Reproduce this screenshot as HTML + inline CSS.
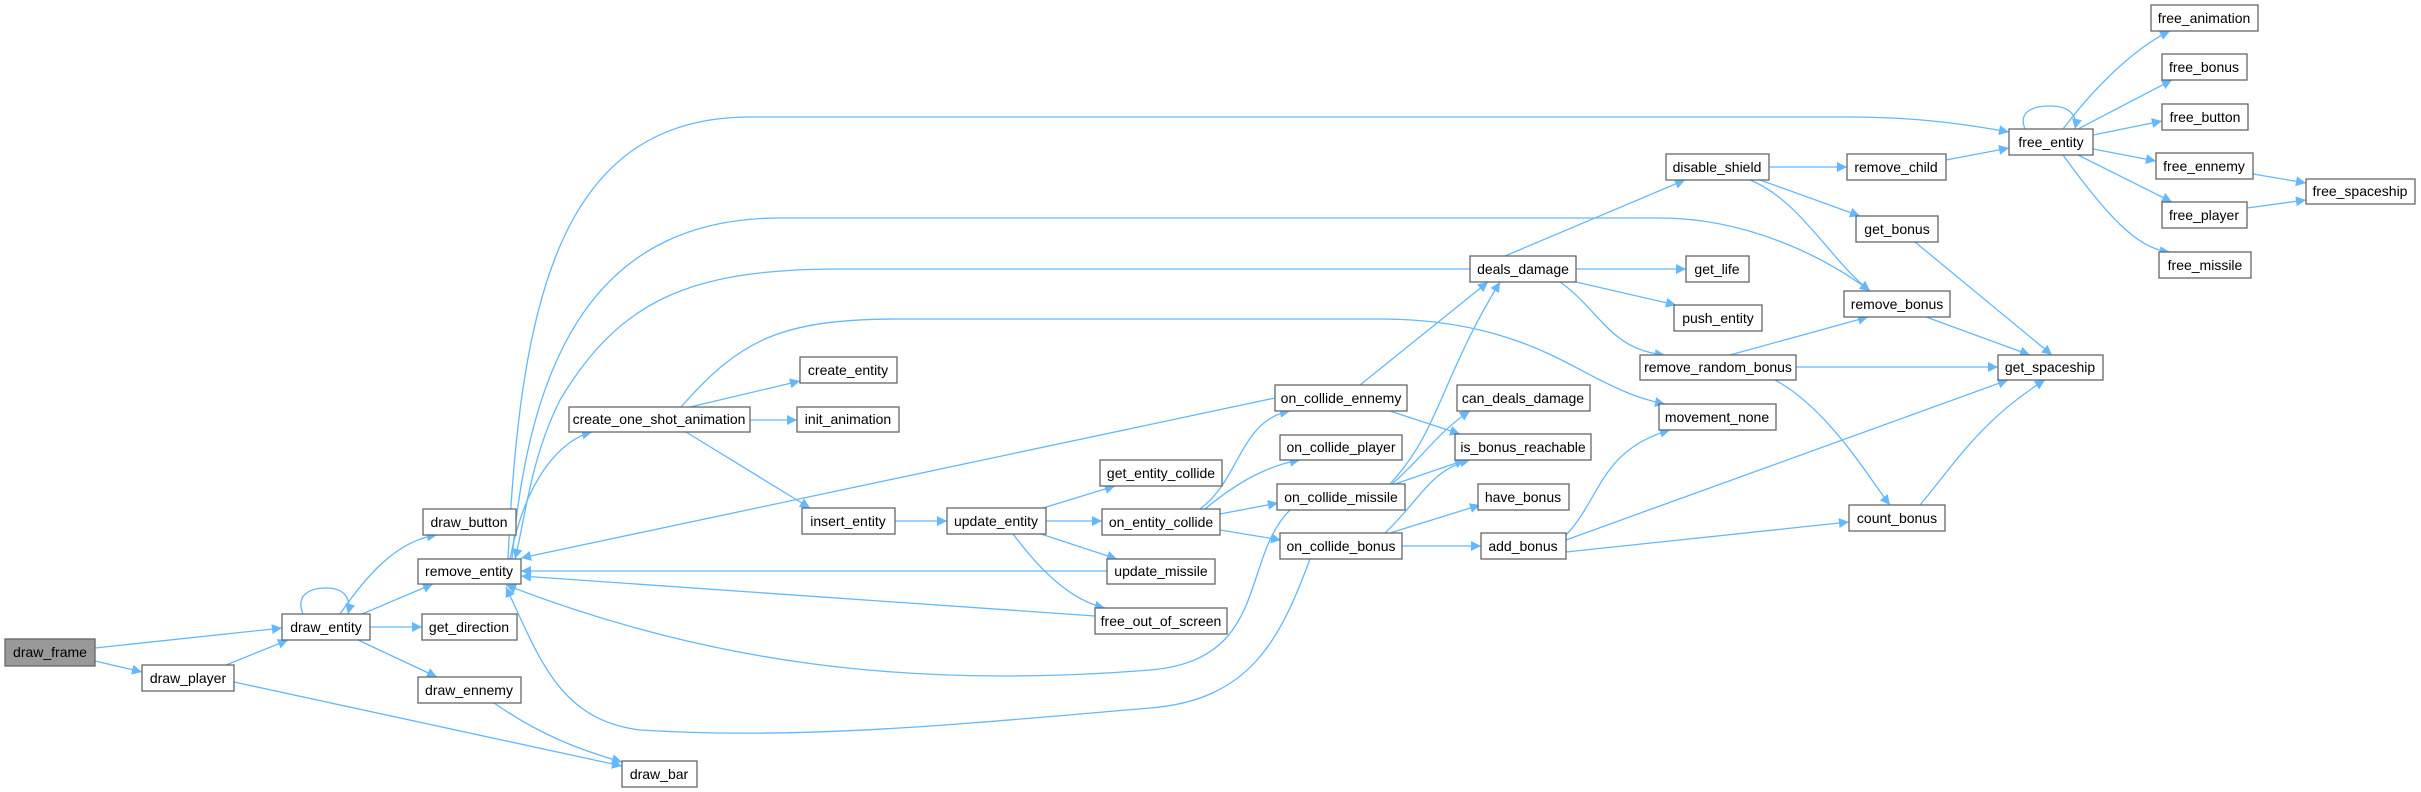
<!DOCTYPE html>
<html><head><meta charset="utf-8"><style>
html,body{margin:0;padding:0;background:#fff;}
svg{display:block;}
text{font-family:"Liberation Sans",Arial,sans-serif;font-size:14px;fill:#000;}
</style></head><body>
<svg width="2421" height="792" viewBox="0 0 2421 792" xmlns="http://www.w3.org/2000/svg">
<defs>
<marker id="a" viewBox="0 0 10 10" refX="10" refY="5" markerWidth="14" markerHeight="10" markerUnits="userSpaceOnUse" orient="auto">
<path d="M0,0 L10,5 L0,10 z" fill="#63b8ff"/>
</marker>
</defs>
<g fill="none" stroke="#63b8ff" stroke-width="1.3" marker-end="url(#a)">
<path d="M95,648 L282,628"/>
<path d="M95,661 L142,672"/>
<path d="M226,665 L288,640"/>
<path d="M234,682 L622,766"/>
<path d="M303,614 C295,595 310,588 326,588 C342,588 352,596 348,614"/>
<path d="M340,614 C370,570 400,540 437,535"/>
<path d="M362,614 L433,584"/>
<path d="M370,627 L422,627"/>
<path d="M358,640 L437,677"/>
<path d="M494,703 C540,735 580,750 622,762"/>
<path d="M510,559 C525,480 560,440 592,432"/>
<path d="M690,407 L800,381"/>
<path d="M750,420 L797,420"/>
<path d="M686,432 L810,508"/>
<path d="M681,407 C740,340 780,319 900,319 L1380,319 C1500,319 1560,360 1600,380 C1630,395 1645,400 1665,404"/>
<path d="M895,521 L947,521"/>
<path d="M1043,508 L1115,486"/>
<path d="M1046,521 L1102,521"/>
<path d="M1041,534 L1117,559"/>
<path d="M1013,534 C1040,570 1070,600 1105,608"/>
<path d="M1107,571 L521,571"/>
<path d="M1095,616 L521,576"/>
<path d="M1275,398 L521,558"/>
<path d="M1200,509 C1240,480 1240,420 1290,411"/>
<path d="M1205,509 C1240,480 1270,465 1300,460"/>
<path d="M1220,514 L1278,503"/>
<path d="M1220,530 L1281,540"/>
<path d="M1360,385 L1488,282"/>
<path d="M1390,411 L1460,434"/>
<path d="M1390,484 C1440,430 1440,380 1500,282"/>
<path d="M1392,484 C1420,460 1440,430 1470,411"/>
<path d="M1395,484 L1465,460"/>
<path d="M1290,510 C1240,560 1270,660 1150,670 C900,690 700,660 506,585"/>
<path d="M1310,559 C1280,640 1250,700 1150,708 C950,725 800,740 640,730 C560,720 540,660 506,587"/>
<path d="M1385,533 C1420,500 1430,470 1470,460"/>
<path d="M1390,533 L1480,505"/>
<path d="M1402,546 L1481,546"/>
<path d="M1566,535 C1600,500 1600,450 1670,430"/>
<path d="M1566,540 L2008,380"/>
<path d="M1566,552 L1849,522"/>
<path d="M1920,505 C1950,470 1980,420 2045,380"/>
<path d="M1505,256 L1685,180"/>
<path d="M1576,269 L1686,269"/>
<path d="M1576,282 L1676,305"/>
<path d="M1560,282 C1600,310 1610,350 1665,355"/>
<path d="M1470,269 L840,269 C690,269 620,300 560,400 C530,460 525,520 515,559"/>
<path d="M512,559 C530,350 600,218 780,218 L1660,218 C1750,218 1830,260 1870,291"/>
<path d="M508,559 C520,300 560,117 750,117 L1850,117 C1920,117 1970,125 2009,132"/>
<path d="M1769,167 L1847,167"/>
<path d="M1760,180 L1860,216"/>
<path d="M1750,180 C1800,200 1830,260 1870,291"/>
<path d="M1946,160 L2009,148"/>
<path d="M1915,242 L2052,355"/>
<path d="M1926,317 L2030,355"/>
<path d="M1730,355 L1868,317"/>
<path d="M1796,367 L1998,367"/>
<path d="M1775,380 C1830,410 1870,480 1890,505"/>
<path d="M2025,129 C2018,112 2032,106 2050,106 C2068,106 2078,114 2075,129"/>
<path d="M2063,129 C2100,80 2140,45 2170,31"/>
<path d="M2078,129 L2172,80"/>
<path d="M2093,135 L2162,121"/>
<path d="M2093,149 L2156,161"/>
<path d="M2078,155 L2172,202"/>
<path d="M2063,155 C2110,220 2140,250 2170,252"/>
<path d="M2253,174 L2306,183"/>
<path d="M2247,208 L2306,200"/>
</g>
<g stroke="#666" stroke-width="1.3" fill="#fff">
<rect x="5" y="639" width="90" height="27" fill="#999"/>
<rect x="142" y="665" width="92" height="26"/>
<rect x="282" y="614" width="88" height="26"/>
<rect x="423" y="509" width="93" height="26"/>
<rect x="418" y="559" width="103" height="25"/>
<rect x="422" y="614" width="95" height="26"/>
<rect x="418" y="677" width="103" height="26"/>
<rect x="622" y="761" width="75" height="26"/>
<rect x="569" y="407" width="181" height="25"/>
<rect x="800" y="357" width="97" height="26"/>
<rect x="797" y="407" width="102" height="25"/>
<rect x="802" y="508" width="93" height="26"/>
<rect x="947" y="508" width="99" height="26"/>
<rect x="1100" y="460" width="122" height="26"/>
<rect x="1102" y="509" width="118" height="26"/>
<rect x="1107" y="559" width="108" height="25"/>
<rect x="1095" y="608" width="132" height="26"/>
<rect x="1275" y="385" width="132" height="26"/>
<rect x="1280" y="435" width="122" height="25"/>
<rect x="1277" y="484" width="128" height="26"/>
<rect x="1280" y="533" width="122" height="26"/>
<rect x="1470" y="256" width="106" height="26"/>
<rect x="1686" y="256" width="63" height="26"/>
<rect x="1674" y="305" width="88" height="26"/>
<rect x="1457" y="385" width="133" height="26"/>
<rect x="1455" y="434" width="136" height="26"/>
<rect x="1478" y="484" width="91" height="26"/>
<rect x="1481" y="533" width="85" height="26"/>
<rect x="1666" y="154" width="103" height="26"/>
<rect x="1847" y="154" width="99" height="26"/>
<rect x="1856" y="216" width="82" height="26"/>
<rect x="1844" y="291" width="106" height="26"/>
<rect x="1640" y="355" width="156" height="25"/>
<rect x="1659" y="404" width="117" height="26"/>
<rect x="1849" y="505" width="96" height="26"/>
<rect x="1998" y="355" width="105" height="25"/>
<rect x="2009" y="129" width="84" height="26"/>
<rect x="2151" y="5" width="107" height="26"/>
<rect x="2162" y="54" width="85" height="26"/>
<rect x="2162" y="104" width="86" height="26"/>
<rect x="2156" y="153" width="97" height="26"/>
<rect x="2162" y="202" width="85" height="26"/>
<rect x="2159" y="252" width="92" height="26"/>
<rect x="2306" y="179" width="109" height="25"/>
</g>
<g text-anchor="middle">
<text x="50" y="657">draw_frame</text>
<text x="188" y="683">draw_player</text>
<text x="326" y="632">draw_entity</text>
<text x="469" y="527">draw_button</text>
<text x="469" y="576">remove_entity</text>
<text x="469" y="632">get_direction</text>
<text x="469" y="695">draw_ennemy</text>
<text x="659" y="779">draw_bar</text>
<text x="659" y="424">create_one_shot_animation</text>
<text x="848" y="375">create_entity</text>
<text x="848" y="424">init_animation</text>
<text x="848" y="526">insert_entity</text>
<text x="996" y="526">update_entity</text>
<text x="1161" y="478">get_entity_collide</text>
<text x="1161" y="527">on_entity_collide</text>
<text x="1161" y="576">update_missile</text>
<text x="1161" y="626">free_out_of_screen</text>
<text x="1341" y="403">on_collide_ennemy</text>
<text x="1341" y="452">on_collide_player</text>
<text x="1341" y="502">on_collide_missile</text>
<text x="1341" y="551">on_collide_bonus</text>
<text x="1523" y="274">deals_damage</text>
<text x="1717" y="274">get_life</text>
<text x="1718" y="323">push_entity</text>
<text x="1523" y="403">can_deals_damage</text>
<text x="1523" y="452">is_bonus_reachable</text>
<text x="1523" y="502">have_bonus</text>
<text x="1523" y="551">add_bonus</text>
<text x="1717" y="172">disable_shield</text>
<text x="1896" y="172">remove_child</text>
<text x="1897" y="234">get_bonus</text>
<text x="1897" y="309">remove_bonus</text>
<text x="1718" y="372">remove_random_bonus</text>
<text x="1717" y="422">movement_none</text>
<text x="1897" y="523">count_bonus</text>
<text x="2050" y="372">get_spaceship</text>
<text x="2051" y="147">free_entity</text>
<text x="2204" y="23">free_animation</text>
<text x="2204" y="72">free_bonus</text>
<text x="2205" y="122">free_button</text>
<text x="2204" y="171">free_ennemy</text>
<text x="2204" y="220">free_player</text>
<text x="2205" y="270">free_missile</text>
<text x="2360" y="196">free_spaceship</text>
</g>
</svg>
</body></html>
